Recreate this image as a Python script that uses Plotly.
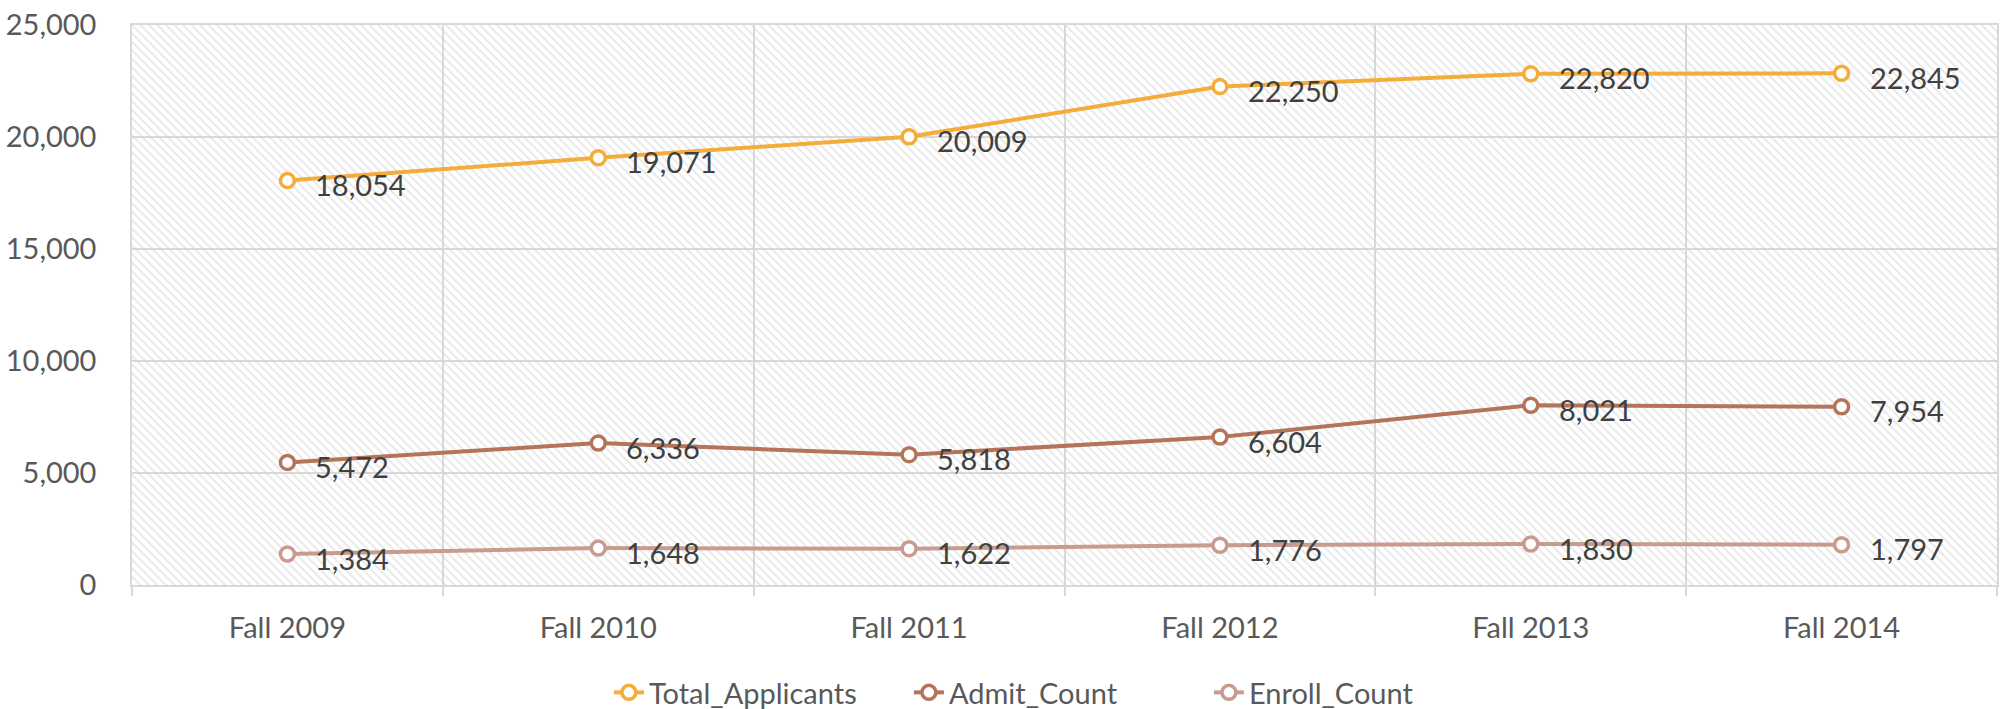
import plotly.graph_objects as go

categories = ["Fall 2009", "Fall 2010", "Fall 2011", "Fall 2012", "Fall 2013", "Fall 2014"]
total_applicants = [18054, 19071, 20009, 22250, 22820, 22845]
admit_count = [5472, 6336, 5818, 6604, 8021, 7954]
enroll_count = [1384, 1648, 1622, 1776, 1830, 1797]

series = [
    ("Total_Applicants", total_applicants, "#F4AC3A"),
    ("Admit_Count", admit_count, "#B4745A"),
    ("Enroll_Count", enroll_count, "#C79B8E"),
]

Y_MAX = 25000
FONT = "Lato"
GRID = "#D9D9D9"

fig = go.Figure()

# hatched plot-area background
fig.add_trace(go.Bar(
    x=categories, y=[Y_MAX] * len(categories), width=1,
    marker=dict(color="rgba(0,0,0,0)", line=dict(width=0),
                pattern=dict(shape="\\", size=6, solidity=0.3,
                             fgcolor="#CDCDCD", bgcolor="rgba(0,0,0,0)")),
    showlegend=False, hoverinfo="skip",
))

annotations = []
for name, vals, color in series:
    fig.add_trace(go.Scatter(
        x=categories, y=vals, name=name, mode="lines+markers",
        line=dict(color=color, width=4),
        marker=dict(size=14, color="white", line=dict(color=color, width=3.5)),
    ))
    for c, v in zip(categories, vals):
        annotations.append(dict(
            x=c, y=v, xref="x", yref="y", text=f"{v:,}", showarrow=False,
            xanchor="left", yanchor="middle", xshift=26, yshift=-4,
            font=dict(family=FONT, size=29, color="#404040"),
        ))

fig.update_layout(
    width=2004, height=709,
    margin=dict(l=132, r=7, t=25, b=124, autoexpand=False),
    paper_bgcolor="white", plot_bgcolor="white",
    bargap=0,
    annotations=annotations,
    showlegend=True,
    legend=dict(orientation="h", x=0.497, xanchor="center", y=-0.192, yanchor="middle",
                font=dict(family=FONT, size=29, color="#595959"),
                entrywidth=255, entrywidthmode="pixels",
                bgcolor="rgba(0,0,0,0)"),
    xaxis=dict(type="category", tickson="boundaries", showgrid=True, gridcolor=GRID, gridwidth=1.5,
               ticks="outside", ticklen=9, tickcolor=GRID, tickwidth=1.5,
               showline=True, linecolor=GRID, linewidth=2, mirror=True,
               tickfont=dict(family=FONT, size=29, color="#595959"),
               ticklabelstandoff=16, range=[-0.5, 5.5], automargin=False),
    yaxis=dict(range=[0, Y_MAX], dtick=5000, tickformat=",d", showgrid=True,
               gridcolor=GRID, gridwidth=1.5, ticks="", showline=True, linecolor=GRID,
               linewidth=1.5, mirror=True, zeroline=False, automargin=False,
               ticklabeloverflow="allow",
               tickfont=dict(family=FONT, size=29, color="#595959"),
               ticklabelstandoff=28),
)

fig.write_html("out.html", config={"displayModeBar": False},
               post_script="document.body.style.margin='0';")
